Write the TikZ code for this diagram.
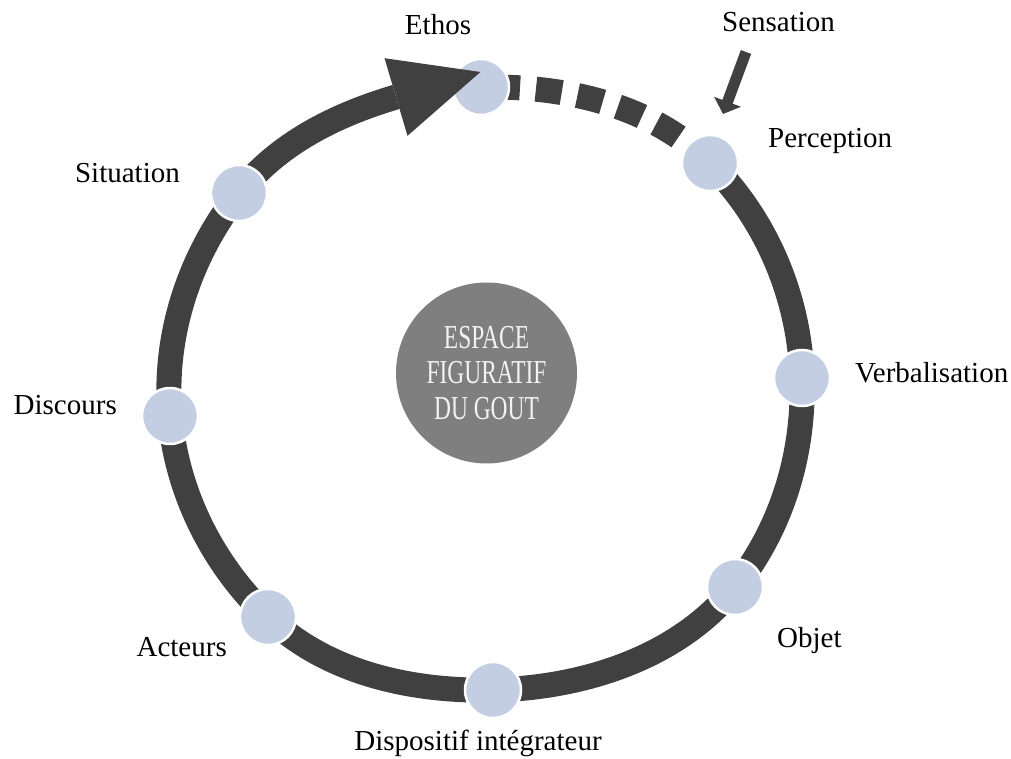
\documentclass[tikz,border=0pt]{standalone}
\usepackage{fontspec}
\setmainfont{Liberation Serif}
\newfontfamily\condfont[FakeStretch=0.7]{Liberation Serif}
\usetikzlibrary{arrows.meta,backgrounds}
\definecolor{ringc}{RGB}{64,64,64}
\definecolor{nodec}{RGB}{195,206,226}
\definecolor{hubc}{RGB}{127,127,127}
\definecolor{hubtext}{RGB}{242,242,242}
\begin{document}
\begin{tikzpicture}[x=1pt,y=1pt,
  stage/.style={circle, fill=nodec, draw=white, line width=2.5pt, minimum size=56pt, inner sep=0pt},
  lbl/.style={font=\fontsize{29}{34}\selectfont, inner sep=0pt, text=black},
  ring/.style={draw=ringc, line width=25pt, looseness=0.88},
]
\useasboundingbox (0,0) rectangle (1011,759);
% stages on the cycle
\node[stage] (eth) at (481,672) {};
\node[stage] (per) at (710,596) {};
\node[stage] (ver) at (802,381) {};
\node[stage] (obj) at (735,172) {};
\node[stage] (dis) at (493,69) {};
\node[stage] (act) at (268,142) {};
\node[stage] (dsc) at (170,343) {};
\node[stage] (sit) at (239,566) {};
\coordinate (base) at (396,662);
\coordinate (tipL) at (384.5,700.8);
\coordinate (tip) at (480.4,687);
\coordinate (tipR) at (407.5,623.2);
% ring
\begin{scope}[on background layer]
\draw[ring] (per.center) to[out=-44.9,in=91.8] (ver.center)
  to[out=-88.2,in=51.4] (obj.center)
  to[out=-128.6,in=1.3] (dis.center)
  to[out=-178.7,in=-43.6] (act.center)
  to[out=136.4,in=-85] (dsc.center)
  to[out=95,in=-128.3] (sit.center)
  to[out=51.7,in=196.5] (base);
\draw[ring, dash pattern=on 26pt off 16pt, dash phase=29pt] (eth.center) to[out=1,in=135.1] (per.center);
\end{scope}
\fill[ringc] (tipL) -- (tip) -- (tipR) -- cycle;
% hub
\node[circle, fill=hubc, minimum size=181pt, inner sep=0pt, align=center, text=hubtext,
  font=\condfont\fontsize{33.5}{35.5}\selectfont] (hub) at (486.5,386) {ESPACE\\FIGURATIF\\DU GOUT};
% labels
\node[lbl, anchor=base] (ethl) at (438,724) {Ethos};
\node[lbl, anchor=base west] (sens) at (722,727) {Sensation};
\node[lbl, anchor=base west] (perl) at (768,611) {Perception};
\node[lbl, anchor=base west] (verl) at (855,376) {Verbalisation};
\node[lbl, anchor=base west] (objl) at (777,111) {Objet};
\node[lbl, anchor=base] (disl) at (478,8) {Dispositif intégrateur};
\node[lbl, anchor=base east] (actl) at (227,102) {Acteurs};
\node[lbl, anchor=base east] (dscl) at (117,344) {Discours};
\node[lbl, anchor=base east] (sitl) at (180,576) {Situation};
% sensation arrow
\coordinate (s0) at (746,707);
\coordinate (s1) at (723,645);
\draw[ringc, line width=11pt, -{Triangle[length=13pt,width=28pt]}] (s0) -- (s1);
\end{tikzpicture}
\end{document}
